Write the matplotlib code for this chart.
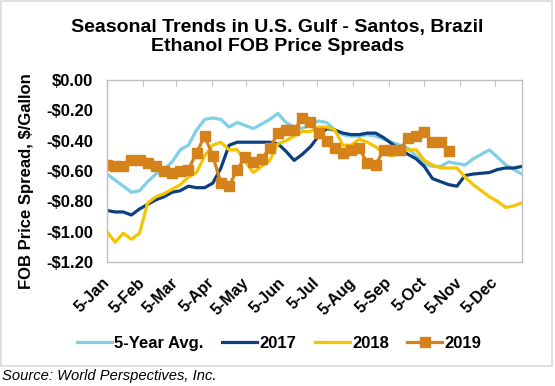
import matplotlib
matplotlib.use("Agg")
import matplotlib.pyplot as plt
import matplotlib.transforms as mtransforms
from matplotlib.patches import Rectangle

plt.rcParams['font.family'] = ['Liberation Sans', 'DejaVu Sans']

# day offsets from 5-Jan, weekly
days = [7 * i for i in range(52)]

avg5 = [-0.62, -0.66, -0.70, -0.74, -0.73, -0.67, -0.62, -0.59, -0.54, -0.46,
        -0.43, -0.33, -0.26, -0.25, -0.26, -0.31, -0.28, -0.30, -0.32, -0.29,
        -0.26, -0.22, -0.28, -0.31, -0.32, -0.29, -0.27, -0.28, -0.33, -0.36,
        -0.37, -0.37, -0.36, -0.37, -0.39, -0.41, -0.43, -0.45, -0.50, -0.55,
        -0.57, -0.57, -0.54, -0.55, -0.56, -0.52, -0.49, -0.46, -0.51, -0.56,
        -0.59, -0.62]
y2017 = [-0.86, -0.87, -0.87, -0.89, -0.85, -0.82, -0.79, -0.77, -0.74, -0.73,
         -0.70, -0.71, -0.71, -0.68, -0.58, -0.43, -0.41, -0.41, -0.41, -0.41,
         -0.41, -0.42, -0.47, -0.53, -0.49, -0.44, -0.37, -0.32, -0.33, -0.35,
         -0.36, -0.36, -0.35, -0.35, -0.38, -0.42, -0.46, -0.49, -0.52, -0.57,
         -0.65, -0.67, -0.69, -0.70, -0.63, -0.62, -0.615, -0.61, -0.59, -0.58,
         -0.58, -0.57]
y2018 = [-1.00, -1.07, -1.01, -1.05, -1.01, -0.81, -0.77, -0.75, -0.72, -0.69,
         -0.64, -0.61, -0.50, -0.43, -0.41, -0.46, -0.46, -0.54, -0.61, -0.57,
         -0.53, -0.42, -0.40, -0.37, -0.34, -0.34, -0.31, -0.31, -0.33, -0.43,
         -0.43, -0.39, -0.41, -0.44, -0.48, -0.50, -0.48, -0.46, -0.46, -0.53,
         -0.56, -0.58, -0.58, -0.58, -0.64, -0.69, -0.73, -0.77, -0.80, -0.84,
         -0.83, -0.81]
y2019 = [-0.56, -0.565, -0.57, -0.53, -0.53, -0.55, -0.57, -0.60, -0.61, -0.60,
         -0.59, -0.48, -0.37, -0.50, -0.68, -0.70, -0.59, -0.51, -0.54, -0.52,
         -0.45, -0.35, -0.33, -0.33, -0.25, -0.28, -0.35, -0.40, -0.45, -0.48,
         -0.46, -0.45, -0.55, -0.56, -0.46, -0.46, -0.46, -0.38, -0.37, -0.34,
         -0.41, -0.41, -0.47]

month_days = [0, 31, 59, 90, 120, 151, 181, 212, 243, 273, 304, 334]
month_labels = ["5-Jan", "5-Feb", "5-Mar", "5-Apr", "5-May", "5-Jun",
                "5-Jul", "5-Aug", "5-Sep", "5-Oct", "5-Nov", "5-Dec"]
y_ticks = [0.0, -0.2, -0.4, -0.6, -0.8, -1.0, -1.2]
y_labels = ["$0.00", "-$0.20", "-$0.40", "-$0.60", "-$0.80", "-$1.00", "-$1.20"]

fig = plt.figure(figsize=(5.55, 3.86), dpi=100)
ax = fig.add_axes([0.1928, 0.3212, 0.7477, 0.4715])

ax.plot(days, avg5, color="#7fd0e3", lw=2.3, label="5-Year Avg.")
ax.plot(days, y2017, color="#0d3f80", lw=2.3, label="2017")
ax.plot(days, y2018, color="#f4c500", lw=2.3, label="2018")
ax.plot(days[:len(y2019)], y2019, color="#d6821a", lw=2.3, marker="s",
        markersize=6.5, label="2019")

ax.set_xlim(0, 357)
ax.set_ylim(-1.2, 0)
ax.set_xticks(month_days)
ax.set_xticklabels(month_labels, rotation=45, ha="right", va="center",
                   rotation_mode="anchor", fontsize=11.5, fontweight="bold")
shift = mtransforms.ScaledTranslation(0.04, 0, fig.dpi_scale_trans)
for lab in ax.get_xticklabels():
    lab.set_transform(lab.get_transform() + shift)
ax.tick_params(axis="x", top=True, bottom=False, labeltop=False,
               labelbottom=True, direction="in", length=4, color="#bfbfbf",
               pad=13)
ax.set_yticks(y_ticks)
ax.set_yticklabels(y_labels, fontsize=12, fontweight="bold")
ax.tick_params(axis="y", length=0, pad=10)
for s in ax.spines.values():
    s.set_color("#bfbfbf")
    s.set_linewidth(1)

fig.text(0.0486, 0.531, "FOB Price Spread, $/Gallon", rotation=90,
         ha="center", va="center", fontsize=12, fontweight="bold")

fig.text(0.5, 0.904, "Seasonal Trends in U.S. Gulf - Santos, Brazil\nEthanol FOB Price Spreads",
         ha="center", va="center", fontsize=14, fontweight="bold",
         linespacing=1.2)

ax.legend(loc="center", bbox_to_anchor=(0.503, 0.111),
          bbox_transform=fig.transFigure, ncol=4, frameon=False,
          prop={"weight": "bold", "size": 12}, handlelength=2.1,
          handletextpad=0.15, columnspacing=1.1)

fig.patches.append(Rectangle((0.001, 0.052), 0.994, 0.945,
                             transform=fig.transFigure, fill=False,
                             edgecolor="#d9d9d9", lw=1.2))
fig.text(0.004, 0.026, "Source: World Perspectives, Inc.", ha="left",
         va="center", fontsize=10.6, style="italic")

fig.savefig("out.png", dpi=100)
